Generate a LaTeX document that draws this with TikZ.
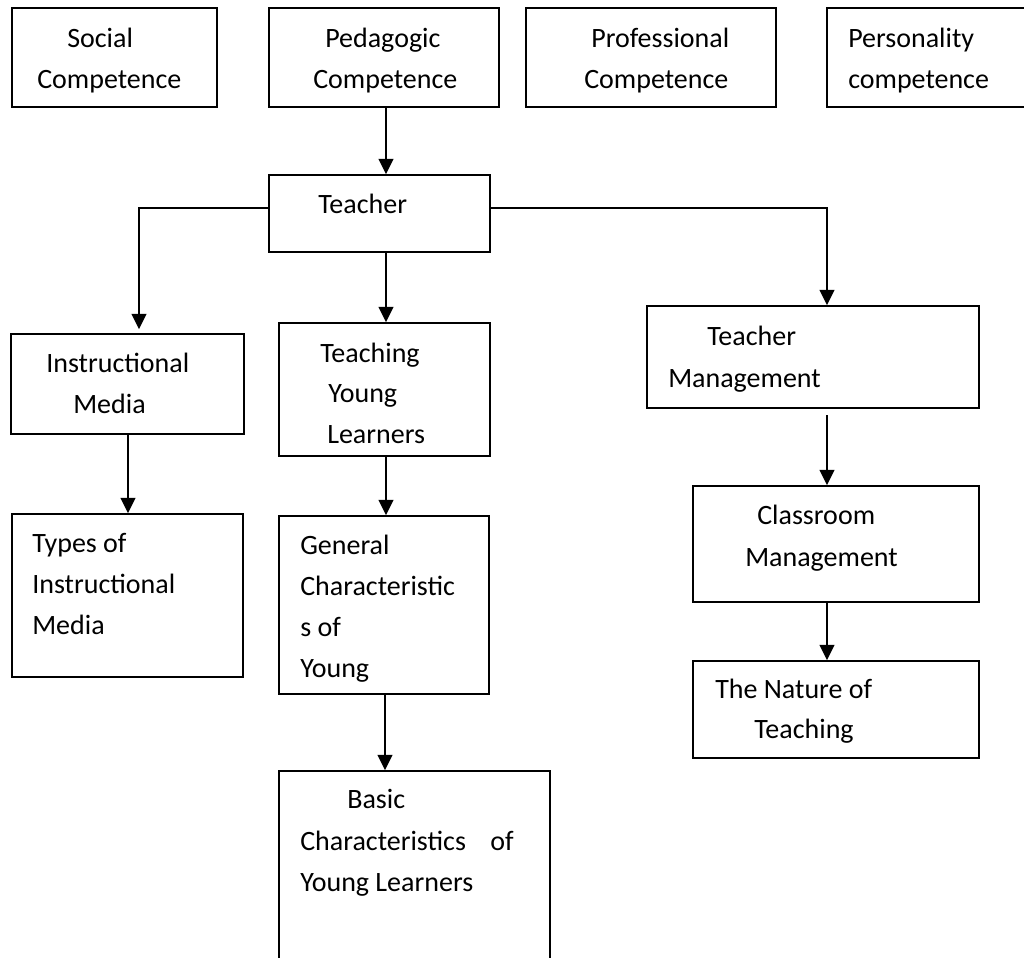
\documentclass[tikz,border=0pt]{standalone}
\usepackage{fontspec}
\setmainfont{Carlito}
\usetikzlibrary{arrows.meta,fit}
\newcommand\lblfont{\fontsize{21}{25}\selectfont}
\tikzset{
  box/.style={draw, line width=1.2pt, inner sep=0pt},
  lbl/.style={anchor=base west, inner sep=0pt, font=\lblfont},
  arr/.style={line width=1.5pt, -{Triangle[length=11.5pt,width=11pt]}}
}
\begin{document}
\begin{tikzpicture}[x=0.75pt,y=-0.75pt]
\useasboundingbox (0,0) rectangle (1024,957);
% column coordinates
\coordinate (xa) at (139,0);
\coordinate (xb) at (386,0);
\coordinate (xc) at (827,0);
\coordinate (xd) at (128,0);
\coordinate (xe) at (385,0);
% boxes
\node[box, fit={(12,8)(217,107)}] (social) {};
\node[box, fit={(269,8)(499,107)}] (ped) {};
\node[box, fit={(526,8)(776,107)}] (prof) {};
\node[box, fit={(827,8)(1040,107)}] (pers) {};
\node[box, fit={(269,175)(490,252)}] (teacher) {};
\node[box, fit={(11,334)(244,434)}] (im) {};
\node[box, fit={(279,323)(490,456)}] (tyl) {};
\node[box, fit={(647,306)(979,408)}] (tm) {};
\node[box, fit={(12,514)(243,677)}] (types) {};
\node[box, fit={(279,516)(489,694)}] (gcy) {};
\node[box, fit={(693,486)(979,602)}] (cm) {};
\node[box, fit={(693,661)(979,758)}] (nat) {};
\node[box, fit={(279,771)(550,980)}] (basic) {};
% texts
\node[lbl] (t1a) at (67,47) {Social};
\node[lbl] (t1b) at (37,88) {Competence};
\node[lbl] (t2a) at (325,47) {Pedagogic};
\node[lbl] (t2b) at (313,88) {Competence};
\node[lbl] (t3a) at (591,47) {Professional};
\node[lbl] (t3b) at (584,88) {Competence};
\node[lbl] (t4a) at (848,47) {Personality};
\node[lbl] (t4b) at (848,88) {competence};
\node[lbl] (t5a) at (318,213) {Teacher};
\node[lbl] (t6a) at (46,372) {Instructional};
\node[lbl] (t6b) at (73,413) {Media};
\node[lbl] (t7a) at (320,362) {Teaching};
\node[lbl] (t7b) at (328,402) {Young};
\node[lbl] (t7c) at (327,443) {Learners};
\node[lbl] (t8a) at (707,345) {Teacher};
\node[lbl] (t8b) at (668,387) {Management};
\node[lbl] (t9a) at (32,552) {Types of};
\node[lbl] (t9b) at (32,593) {Instructional};
\node[lbl] (t9c) at (32,634) {Media};
\node[lbl] (t10a) at (300,554) {General};
\node[lbl] (t10b) at (300,595) {Characteristic};
\node[lbl] (t10c) at (300,636) {s of};
\node[lbl] (t10d) at (300,677) {Young};
\node[lbl] (t11a) at (757,524) {Classroom};
\node[lbl] (t11b) at (745,566) {Management};
\node[lbl] (t12a) at (715,698) {The Nature of};
\node[lbl] (t12b) at (754,738) {Teaching};
\node[lbl] (t13a) at (347,808) {Basic};
\node[lbl] (t13b) at (300,850) {Characteristics};
\node[lbl] (t13c) at (490,850) {of};
\node[lbl] (t13d) at (300,891) {Young Learners};
% connectors
\draw[arr] (ped.south -| xb) -- (teacher.north -| xb);
\draw[arr] (teacher.west |- 0,208) -| ([yshift=3pt]im.north -| xa);
\draw[arr] (teacher.south -| xb) -- (tyl.north -| xb);
\draw[arr] (teacher.east |- 0,208) -| (tm.north -| xc);
\draw[arr] (im.south -| xd) -- (types.north -| xd);
\draw[arr] (tyl.south -| xb) -- (gcy.north -| xb);
\draw[arr] (gcy.south -| xe) -- (basic.north -| xe);
\coordinate (tmout) at (827,415);
\draw[arr] (tmout) -- (cm.north -| xc);
\draw[arr] (cm.south -| xc) -- (nat.north -| xc);
\end{tikzpicture}
\end{document}
